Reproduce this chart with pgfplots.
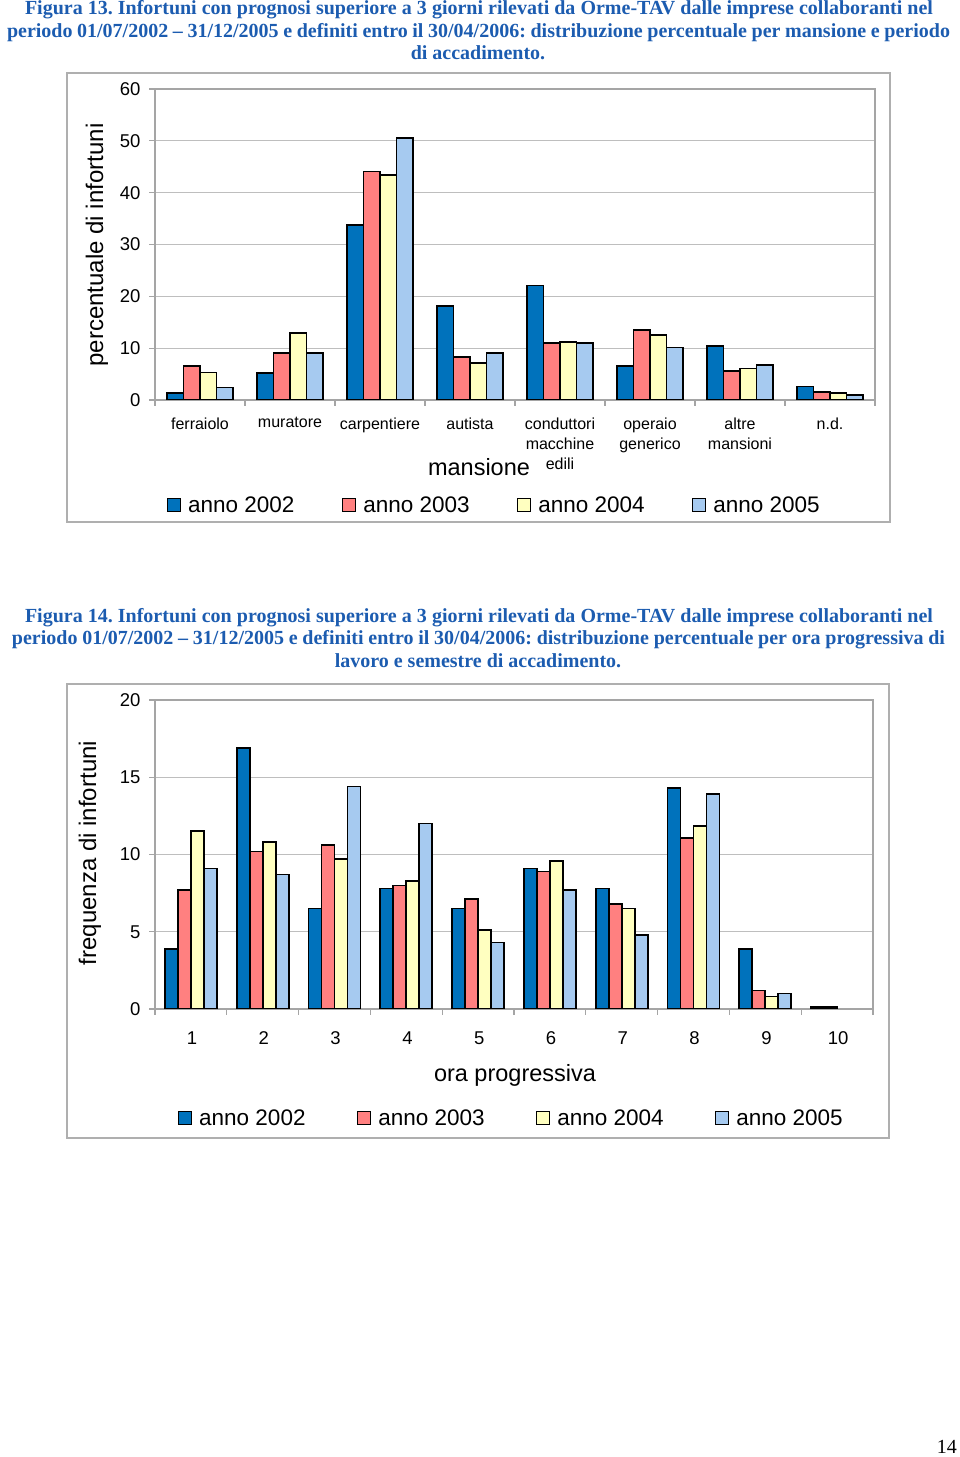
\documentclass[border=0pt]{standalone}
\usepackage{pgfplots}
\pgfplotsset{compat=1.18}
\usepackage{fontspec}
\setmainfont{Liberation Sans}
\newfontfamily\capfont{Liberation Serif}
\frenchspacing

\definecolor{c2002}{RGB}{0,114,188}
\definecolor{c2003}{RGB}{255,128,128}
\definecolor{c2004}{RGB}{255,255,192}
\definecolor{c2005}{RGB}{166,202,240}
\definecolor{capblue}{RGB}{28,92,176}
\definecolor{gridgray}{RGB}{190,190,190}
\definecolor{axisgray}{RGB}{165,165,165}
\definecolor{framegray}{RGB}{175,175,175}

\newcommand{\fs}[2]{\fontsize{#1pt}{#2pt}\selectfont}

\pgfplotsset{
  chart/.style={
    scale only axis, anchor=south west,
    ymin=0, ybar=0pt,
    axis line style={draw=axisgray, line width=1.2pt},
    ymajorgrids, grid style={draw=gridgray, line width=1.2pt},
    tick style={draw=axisgray, line width=1.2pt},
    tick align=outside, tick pos=left, major tick length=6pt,
    yticklabel style={font=\fs{18.5}{22}, xshift=-5pt},
    /pgf/number format/assume math mode=true,
    legend columns=4,
    legend style={draw=none, fill=none, font=\fs{22.5}{26}},
  },
  barsty/.style={draw=black, line width=1.7pt, fill=#1,
    legend image code/.code={\draw[##1, line width=1.5pt] (0pt,-6.5pt) rectangle (13pt,6.5pt); \path (0pt,0pt) (18pt,0pt);}},
}

\begin{document}
\begin{tikzpicture}
\path[use as bounding box] (0,0) rectangle (960pt,1457pt);

% ---- caption 13
\begin{scope}[every node/.style={anchor=base, text=capblue, font=\capfont\bfseries\fs{20}{22}, inner sep=0pt}]
\node at (479pt,1442pt) {\makebox[908pt][s]{Figura 13. Infortuni con prognosi superiore a 3 giorni rilevati da Orme-TAV dalle imprese collaboranti nel}};
\node at (478.5pt,1419.5pt) {\makebox[943pt][s]{periodo 01/07/2002 – 31/12/2005 e definiti entro il 30/04/2006: distribuzione percentuale per mansione e periodo}};
\node at (478pt,1397pt) {di accadimento.};
% ---- caption 14
\node at (479pt,834.5pt) {\makebox[908pt][s]{Figura 14. Infortuni con prognosi superiore a 3 giorni rilevati da Orme-TAV dalle imprese collaboranti nel}};
\node at (478.5pt,812pt) {\makebox[933pt][s]{periodo 01/07/2002 – 31/12/2005 e definiti entro il 30/04/2006: distribuzione percentuale per ora progressiva di}};
\node at (478pt,789.5pt) {lavoro e semestre di accadimento.};
\end{scope}

% ---- frames
\draw[framegray, line width=1.5pt] (67pt,1384pt) rectangle (890pt,935pt);
\draw[framegray, line width=1.5pt] (67pt,773pt) rectangle (889pt,319pt);

% ---- chart 13
\begin{axis}[chart, at={(155pt,1057pt)}, width=720pt, height=311pt,
  xmin=-0.5, xmax=7.5, ymax=60, ytick={0,10,...,60},
  bar width=16.5pt,
  xtick={-0.5,0.5,...,7.5},
  xticklabels={ferraiolo,muratore,carpentiere,autista,{conduttori\\macchine\\edili},{operaio\\generico},{altre\\mansioni},n.d.,{}},
  xticklabel style={font=\fs{16}{20}, align=center, anchor=north, xshift=45pt, yshift=-8pt},
  legend style={at={(0.471,-0.3376)}, anchor=center,
    /tikz/every even column/.append style={column sep=45pt}},
]
\addplot[barsty=c2002] coordinates {(0,1.3) (1,5.2) (2,33.8) (3,18.2) (4,22.1) (5,6.5) (6,10.4) (7,2.6)};
\addplot[barsty=c2003] coordinates {(0,6.6) (1,9.0) (2,44.1) (3,8.3) (4,11.0) (5,13.5) (6,5.6) (7,1.6)};
\addplot[barsty=c2004] coordinates {(0,5.3) (1,12.9) (2,43.4) (3,7.2) (4,11.2) (5,12.6) (6,6.1) (7,1.3)};
\addplot[barsty=c2005] coordinates {(0,2.4) (1,9.0) (2,50.5) (3,9.1) (4,11.0) (5,10.1) (6,6.7) (7,1.0)};
\legend{anno 2002,anno 2003,anno 2004,anno 2005}
\end{axis}
\node[rotate=90, font=\fs{24}{28}] at (97pt,1212pt) {percentuale di infortuni};
\node[anchor=base, font=\fs{23.5}{28}] at (479pt,981pt) {mansione};

% ---- chart 14
\begin{axis}[chart, at={(155pt,448pt)}, width=718pt, height=309pt,
  xmin=0.5, xmax=10.5, ymax=20, ytick={0,5,...,20},
  bar width=13pt,
  xtick={0.5,1.5,...,10.5},
  xticklabels={1,2,3,4,5,6,7,8,9,10,{}},
  xticklabel style={font=\fs{18.5}{22}, anchor=north, xshift=37pt, yshift=-13pt},
  legend style={at={(0.496,-0.3528)}, anchor=center,
    /tikz/every even column/.append style={column sep=49pt}},
]
\addplot[barsty=c2002] coordinates {(1,3.9) (2,16.9) (3,6.5) (4,7.8) (5,6.5) (6,9.1) (7,7.8) (8,14.3) (9,3.9) (10,0.15)};
\addplot[barsty=c2003] coordinates {(1,7.7) (2,10.2) (3,10.6) (4,8.0) (5,7.1) (6,8.9) (7,6.8) (8,11.05) (9,1.2) (10,0.15)};
\addplot[barsty=c2004] coordinates {(1,11.5) (2,10.8) (3,9.7) (4,8.3) (5,5.1) (6,9.6) (7,6.5) (8,11.85) (9,0.8)};
\addplot[barsty=c2005] coordinates {(1,9.1) (2,8.7) (3,14.4) (4,12.0) (5,4.3) (6,7.7) (7,4.8) (8,13.9) (9,1.0)};
\legend{anno 2002,anno 2003,anno 2004,anno 2005}
\end{axis}
\node[rotate=90, font=\fs{24}{28}] at (90pt,604pt) {frequenza di infortuni};
\node[anchor=base, font=\fs{23.5}{28}] at (515pt,375pt) {ora progressiva};

% ---- page number
\node[anchor=base east, inner sep=0pt, font=\capfont\fs{20}{24}] at (957pt,3pt) {14};
\end{tikzpicture}
\end{document}
